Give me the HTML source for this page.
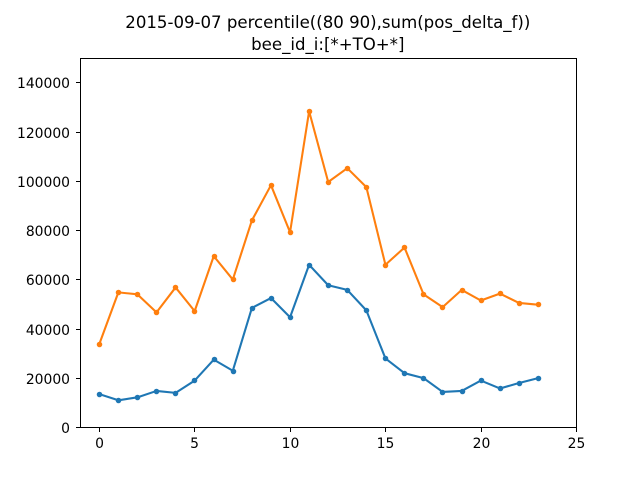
<!DOCTYPE html>
<html lang="en">
<head>
<meta charset="utf-8">
<title>bee_id_i chart</title>
<style>
html,body{margin:0;padding:0;background:#fff;}
#chart{display:block;width:640px;height:480px;}
text{font-family:"DejaVu Sans","Liberation Sans",sans-serif;fill:#000;}
</style>
</head>
<body>
<svg id="chart" xmlns="http://www.w3.org/2000/svg" width="640" height="480" viewBox="0 0 640 480">
<rect x="0" y="0" width="640" height="480" fill="#fff"/>
<text x="327.8" y="28" text-anchor="middle" font-size="16.59">2015-09-07 percentile((80 90),sum(pos_delta_f))</text>
<text x="327.8" y="50" text-anchor="middle" font-size="16.59">bee_id_i:[*+TO+*]</text>
<g id="series"></g>
<g id="axes"></g>
</svg>
<script>
const hours = [0,1,2,3,4,5,6,7,8,9,10,11,12,13,14,15,16,17,18,19,20,21,22,23];
const p80Values = [13500,11000,12200,14800,14000,19000,27500,23000,48500,52500,44700,66000,57700,55800,47500,28000,22000,20000,14400,14800,19000,15800,18000,20000];
const p90Values = [33800,54800,54000,46700,56800,47200,69500,60000,84000,98300,79200,128300,99600,105200,97500,66000,73000,54000,48800,55800,51500,54300,50500,49800];
const xTickValues = [0,5,10,15,20,25];
const yTickValues = [0,20000,40000,60000,80000,100000,120000,140000];

const NS = 'http://www.w3.org/2000/svg';
const plotLeft = 80, plotRight = 576, plotTop = 57.6, plotBottom = 427.2;
const xMin = -1, xMax = 25, yMin = 0, yMax = 150000;
function xScale(v){ return plotLeft + (v - xMin) / (xMax - xMin) * (plotRight - plotLeft); }
function yScale(v){ return plotBottom - (v - yMin) / (yMax - yMin) * (plotBottom - plotTop); }
function snap(p){ return Math.round(p) + 0.5; }
function make(tag, attrs, parent){
  const el = document.createElementNS(NS, tag);
  for (const k in attrs) el.setAttribute(k, attrs[k]);
  parent.appendChild(el);
  return el;
}
const seriesGroup = document.getElementById('series');
const axesGroup = document.getElementById('axes');

function drawSeries(values, color, label){
  const pts = values.map(function(v, i){ return (xScale(hours[i]) + 0.2).toFixed(2) + ',' + (yScale(v) + 0.2).toFixed(2); }).join(' ');
  const line = make('polyline', {points: pts, fill: 'none', stroke: color, 'stroke-width': 2.08, 'stroke-linejoin': 'round', 'stroke-linecap': 'square'}, seriesGroup);
  
  
  values.forEach(function(v, i){
    const dot = make('circle', {cx: snap(xScale(hours[i])), cy: snap(yScale(v)), r: 2.08, fill: color, stroke: color, 'stroke-width': 1.39}, seriesGroup);
    
    
  });
}
drawSeries(p80Values, '#1f77b4', 'percentile-80');
drawSeries(p90Values, '#ff7f0e', 'percentile-90');

xTickValues.forEach(function(v){
  const x = snap(xScale(v));
  const tick = make('line', {x1: x, x2: x, y1: snap(plotBottom), y2: snap(plotBottom) + 4.5, stroke: '#000', 'stroke-width': 1}, axesGroup);
  
  
  const label = make('text', {x: x, y: 447.8, 'text-anchor': 'middle', 'font-size': 13.89}, axesGroup);
  label.textContent = String(v);
  
  
});
yTickValues.forEach(function(v){
  const y = snap(yScale(v));
  const tick = make('line', {x1: snap(plotLeft) - 4.5, x2: snap(plotLeft), y1: y, y2: y, stroke: '#000', 'stroke-width': 1}, axesGroup);
  
  
  const label = make('text', {x: 70, y: y + 5.4, 'text-anchor': 'end', 'font-size': 13.89}, axesGroup);
  label.textContent = String(v);
  
  
});
const frame = make('rect', {x: snap(plotLeft), y: snap(plotTop), width: snap(plotRight) - snap(plotLeft), height: snap(plotBottom) - snap(plotTop), fill: 'none', stroke: '#000', 'stroke-width': 1}, axesGroup);


</script>
</body>
</html>
